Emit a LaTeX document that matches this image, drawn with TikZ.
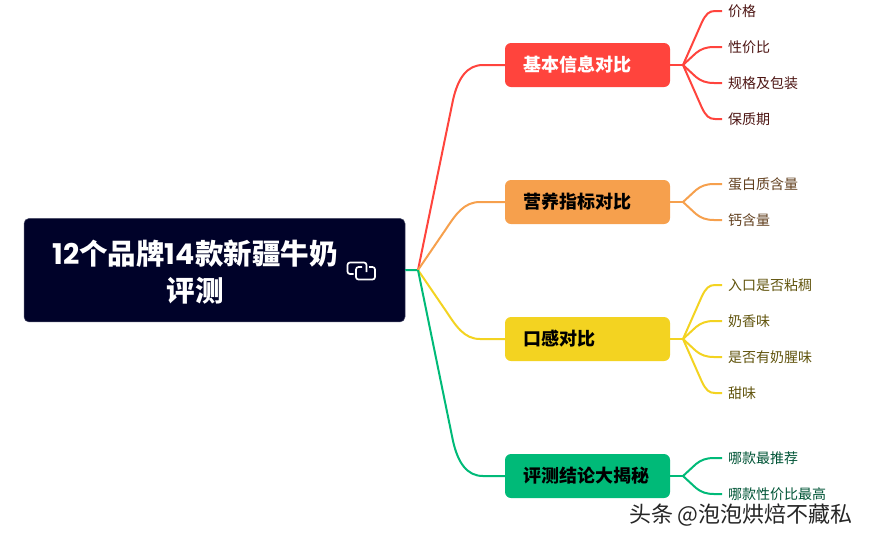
\documentclass[tikz,border=0pt]{standalone}
\usepackage{fontspec}
\usepackage{xcolor}
\setmainfont{Noto Sans CJK SC}
\newfontfamily\digitfont{Poppins}
\definecolor{rootblue}{HTML}{000229}
\definecolor{redbr}{HTML}{FF443D}
\definecolor{orangebr}{HTML}{F6A04D}
\definecolor{yellowbr}{HTML}{F3D321}
\definecolor{greenbr}{HTML}{00BA78}
\tikzstyle{rootbox} = [rectangle, rounded corners = 5pt, draw = rootblue!70!white, fill = rootblue, line width = 0.5pt, minimum width = 381pt, minimum height = 103.5pt, inner sep = 0pt]
\tikzstyle{title} = [text = white, font = \fontsize{28.5}{37.5}\selectfont\bfseries, align = center, inner sep = 0pt]
\tikzstyle{cat} = [rectangle, rounded corners = 6pt, minimum width = 165pt, minimum height = 44pt, inner sep = 0pt, text width = 129pt, align = left, font = \fontsize{18}{22}\selectfont\bfseries]
\tikzstyle{leaf} = [anchor = west, inner xsep = 6pt, inner ysep = 0pt, font = \fontsize{14}{17}\selectfont]
\tikzstyle{branch} = [line width = 2pt]

\begin{document}
\begin{tikzpicture}[x = 1pt, y = -1pt]
    \useasboundingbox (0, 0) rectangle (869, 542);

    \node (root) at (214.5, 270.2) [rootbox] {};
    \node (title) at (195, 272) [title] {{\digitfont 12}个品牌{\digitfont 14}款新疆牛奶\\评测};
    % link icon
    \draw [white, line width = 1.7pt, rounded corners = 2.5pt] (353.5, 274) -- (347.5, 274) -- (347.5, 262.5) -- (366.5, 262.5) -- (366.5, 272);
    \draw [white, line width = 1.7pt, rounded corners = 2.5pt] (369, 267) -- (375, 267) -- (375, 279.5) -- (356, 279.5) -- (356, 267) -- (362, 267);

    \coordinate (hub) at (418, 270);

    \node (basic) at (587.5, 65) [cat, fill = redbr, text = white] {基本信息对比};
    \node (nutri) at (587.5, 202) [cat, fill = orangebr, text = black] {营养指标对比};
    \node (taste) at (587.5, 339) [cat, fill = yellowbr, text = black] {口感对比};
    \node (verdict) at (587.5, 476) [cat, fill = greenbr, text = black] {评测结论大揭秘};

    \coordinate (basicfork) at (683, 65);
    \coordinate (nutrifork) at (683, 202);
    \coordinate (tastefork) at (683, 339);
    \coordinate (verdictfork) at (683, 476);

    \node (price) at (722, 11) [leaf, text = redbr!30!black] {价格};
    \node (value) at (722, 47) [leaf, text = redbr!30!black] {性价比};
    \node (spec) at (722, 83) [leaf, text = redbr!30!black] {规格及包装};
    \node (shelf) at (722, 119) [leaf, text = redbr!30!black] {保质期};
    \node (protein) at (722, 184) [leaf, text = orangebr!40!black] {蛋白质含量};
    \node (calcium) at (722, 220) [leaf, text = orangebr!40!black] {钙含量};
    \node (thick) at (722, 285) [leaf, text = yellowbr!40!black] {入口是否粘稠};
    \node (aroma) at (722, 321) [leaf, text = yellowbr!40!black] {奶香味};
    \node (smell) at (722, 357) [leaf, text = yellowbr!40!black] {是否有奶腥味};
    \node (sweet) at (722, 393) [leaf, text = yellowbr!40!black] {甜味};
    \node (best) at (722, 458) [leaf, text = greenbr!45!black] {哪款最推荐};
    \node (cheap) at (722, 494) [leaf, text = greenbr!45!black] {哪款性价比最高};

    \draw [branch, greenbr] (root.east) -- (hub);
    \draw [branch, redbr] (hub) -- (453, 100) .. controls (458, 78) and (467, 65) .. (483, 65) -- (basic.west);
    \draw [branch, orangebr] (hub) -- (446, 229) .. controls (456, 214) and (464, 202) .. (480, 202) -- (nutri.west);
    \draw [branch, yellowbr] (hub) -- (446, 311) .. controls (456, 326) and (464, 339) .. (480, 339) -- (taste.west);
    \draw [branch, greenbr] (hub) -- (453, 441) .. controls (458, 463) and (467, 476) .. (483, 476) -- (verdict.west);

    \draw [branch, redbr] (basic.east) -- (basicfork);
    \draw [branch, redbr] (basicfork) -- (702, 22) .. controls (706, 14) and (709, 11) .. (715, 11) -- (price.west);
    \draw [branch, redbr] (basicfork) -- (696, 53) .. controls (701, 49) and (706, 47) .. (714, 47) -- (value.west);
    \draw [branch, redbr] (basicfork) -- (696, 77) .. controls (701, 81) and (706, 83) .. (714, 83) -- (spec.west);
    \draw [branch, redbr] (basicfork) -- (702, 108) .. controls (706, 116) and (709, 119) .. (715, 119) -- (shelf.west);

    \draw [branch, orangebr] (nutri.east) -- (nutrifork);
    \draw [branch, orangebr] (nutrifork) -- (696, 190) .. controls (701, 186) and (706, 184) .. (714, 184) -- (protein.west);
    \draw [branch, orangebr] (nutrifork) -- (696, 214) .. controls (701, 218) and (706, 220) .. (714, 220) -- (calcium.west);

    \draw [branch, yellowbr] (taste.east) -- (tastefork);
    \draw [branch, yellowbr] (tastefork) -- (702, 296) .. controls (706, 288) and (709, 285) .. (715, 285) -- (thick.west);
    \draw [branch, yellowbr] (tastefork) -- (696, 327) .. controls (701, 323) and (706, 321) .. (714, 321) -- (aroma.west);
    \draw [branch, yellowbr] (tastefork) -- (696, 351) .. controls (701, 355) and (706, 357) .. (714, 357) -- (smell.west);
    \draw [branch, yellowbr] (tastefork) -- (702, 382) .. controls (706, 390) and (709, 393) .. (715, 393) -- (sweet.west);

    \draw [branch, greenbr] (verdict.east) -- (verdictfork);
    \draw [branch, greenbr] (verdictfork) -- (696, 464) .. controls (701, 460) and (706, 458) .. (714, 458) -- (best.west);
    \draw [branch, greenbr] (verdictfork) -- (696, 488) .. controls (701, 492) and (706, 494) .. (714, 494) -- (cheap.west);

    \node (mark) at (853, 515) [anchor = east, inner sep = 0pt, text = black!85, font = \fontsize{22}{26}\selectfont] {头条 @泡泡烘焙不藏私};
\end{tikzpicture}
\end{document}
